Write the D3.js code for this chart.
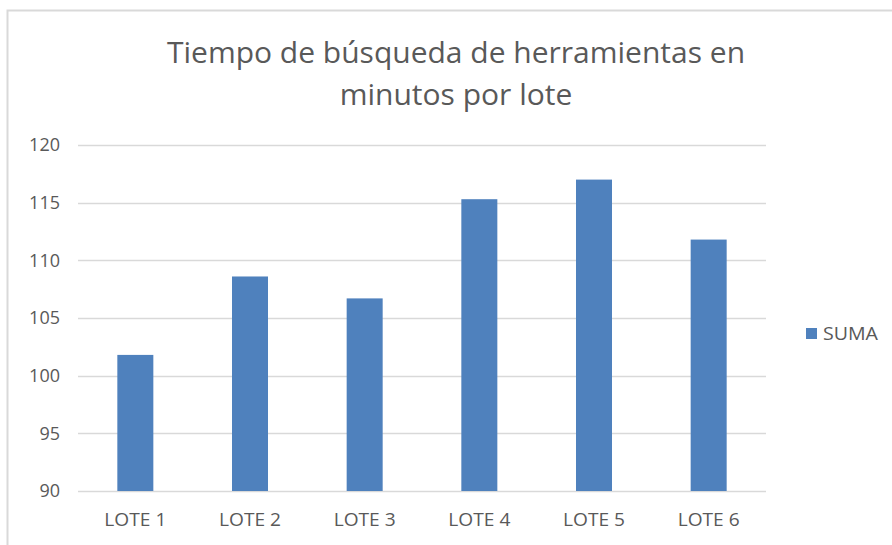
<!DOCTYPE html>
<html>
<head>
<meta charset="utf-8">
<script src="https://cdn.jsdelivr.net/npm/d3@7"></script>
<style>
  html, body { margin: 0; padding: 0; background: #fff; }
  svg text { font-family: "Open Sans", "Noto Sans", sans-serif; fill: #595959; }
</style>
</head>
<body>
<div id="chart"></div>
<script>
// Data
const categories = ["LOTE 1", "LOTE 2", "LOTE 3", "LOTE 4", "LOTE 5", "LOTE 6"];
const sumaValues = [101.8, 108.6, 106.7, 115.3, 117.0, 111.8];
const yTicks = [90, 95, 100, 105, 110, 115, 120];
const titleLines = ["Tiempo de búsqueda de herramientas en", "minutos por lote"];
const seriesName = "SUMA";

const width = 892;
const height = 545;
const margin = { top: 145, right: 126, bottom: 54, left: 78 };

const svg = d3
  .select("#chart")
  .append("svg")
  .attr("width", width)
  .attr("height", height)
  .attr("viewBox", [0, 0, width, height]);

// Chart area border
svg
  .append("rect")
  .attr("x", 7.5)
  .attr("y", 10.5)
  .attr("width", width + 20)
  .attr("height", height + 20)
  .attr("fill", "#fff")
  .attr("stroke", "#d9d9d9")
  .attr("stroke-width", 2);

// Scales
const x = d3
  .scaleBand()
  .domain(categories)
  .range([margin.left, width - margin.right])
  .paddingInner(0.686)
  .paddingOuter(0.343);

const y = d3
  .scaleLinear()
  .domain([90, 120])
  .range([height - margin.bottom, margin.top]);

// Gridlines
svg
  .append("g")
  .selectAll("line")
  .data(yTicks)
  .join("line")
  .attr("x1", margin.left)
  .attr("x2", width - margin.right)
  .attr("y1", (d) => Math.round(y(d)) + 0.5)
  .attr("y2", (d) => Math.round(y(d)) + 0.5)
  .attr("stroke", "#d9d9d9")
  .attr("stroke-width", 1.5);

// Y axis labels
const yAxis = d3.axisLeft(y).tickValues(yTicks).tickSize(0).tickPadding(0);
svg
  .append("g")
  .attr("transform", `translate(${margin.left - 18},0)`)
  .call(yAxis)
  .call((g) => g.select(".domain").remove())
  .call((g) =>
    g.selectAll("text").attr("font-size", 18).attr("fill", "#595959")
      .style("font-family", '"Open Sans", sans-serif')
  );

// Bars
svg
  .append("g")
  .selectAll("rect")
  .data(sumaValues)
  .join("rect")
  .attr("x", (d, i) => x(categories[i]))
  .attr("y", (d) => y(d))
  .attr("width", x.bandwidth())
  .attr("height", (d) => y(90) - y(d))
  .attr("fill", "#4f81bd");

// X axis labels
const xAxis = d3.axisBottom(x).tickSize(0).tickPadding(0);
svg
  .append("g")
  .attr("transform", `translate(0,${height - margin.bottom + 22})`)
  .call(xAxis)
  .call((g) => g.select(".domain").remove())
  .call((g) =>
    g.selectAll("text").attr("font-size", 18).attr("fill", "#595959")
      .style("font-family", '"Open Sans", sans-serif')
      .attr("textLength", 62)
      .attr("lengthAdjust", "spacingAndGlyphs")
  );

// Title
svg
  .append("g")
  .selectAll("text")
  .data(titleLines)
  .join("text")
  .attr("x", 456)
  .attr("y", (d, i) => 63 + i * 42)
  .attr("text-anchor", "middle")
  .attr("font-size", 30)
  .text((d) => d);

// Legend
const legend = svg.append("g").attr("transform", "translate(806,328)");
legend
  .append("rect")
  .attr("width", 11)
  .attr("height", 11)
  .attr("fill", "#4f81bd");
legend
  .append("text")
  .attr("x", 17)
  .attr("y", 12)
  .attr("font-size", 18)
  .attr("textLength", 55)
  .attr("lengthAdjust", "spacingAndGlyphs")
  .text(seriesName);
</script>
</body>
</html>
